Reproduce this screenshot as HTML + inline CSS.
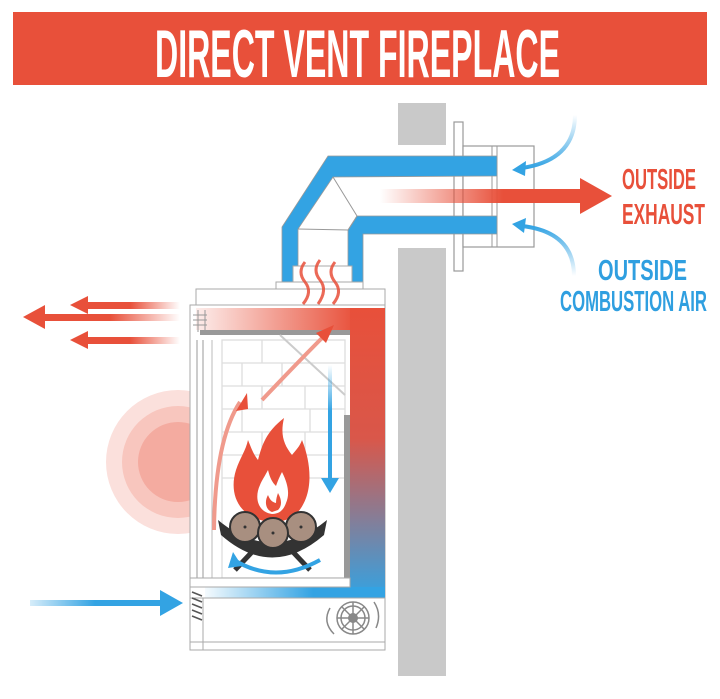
<!DOCTYPE html>
<html><head><meta charset="utf-8"><style>
html,body{margin:0;padding:0;background:#fff;}
svg{display:block;}
text{font-family:"Liberation Sans",sans-serif;font-weight:bold;}
</style></head><body>
<svg width="720" height="699" viewBox="0 0 720 699" xmlns="http://www.w3.org/2000/svg">
<defs>
<linearGradient id="exh" x1="0" x2="1"><stop offset="0" stop-color="#e8503a" stop-opacity="0"/><stop offset="0.6" stop-color="#e8503a"/></linearGradient>
<linearGradient id="lred" x1="1" x2="0"><stop offset="0" stop-color="#e8503a" stop-opacity="0"/><stop offset="0.5" stop-color="#e8503a"/></linearGradient>
<linearGradient id="band" x1="0" x2="1"><stop offset="0" stop-color="#e8503a" stop-opacity="0.1"/><stop offset="1" stop-color="#e8503a"/></linearGradient>
<linearGradient id="col" x1="0" y1="0" x2="0" y2="1"><stop offset="0" stop-color="#e8503a"/><stop offset="0.45" stop-color="#d9574a"/><stop offset="1" stop-color="#33a3e3"/></linearGradient>
<linearGradient id="bband" x1="0" x2="1"><stop offset="0" stop-color="#33a3e3" stop-opacity="0.05"/><stop offset="0.6" stop-color="#33a3e3"/></linearGradient>
<linearGradient id="lblue" x1="0" x2="1"><stop offset="0" stop-color="#33a3e3" stop-opacity="0.2"/><stop offset="0.5" stop-color="#33a3e3"/></linearGradient>
<linearGradient id="vblue" x1="0" y1="0" x2="0" y2="1"><stop offset="0" stop-color="#33a3e3" stop-opacity="0"/><stop offset="0.4" stop-color="#33a3e3"/></linearGradient>
<linearGradient id="cb1" x1="0" y1="0" x2="0" y2="1"><stop offset="0" stop-color="#33a3e3" stop-opacity="0"/><stop offset="1" stop-color="#33a3e3"/></linearGradient>
<linearGradient id="cb2" x1="0" y1="1" x2="0" y2="0"><stop offset="0" stop-color="#33a3e3" stop-opacity="0"/><stop offset="1" stop-color="#33a3e3"/></linearGradient>
<clipPath id="heatclip"><rect x="0" y="0" width="192" height="699"/></clipPath>
</defs>

<rect x="13" y="12" width="694" height="73" fill="#e8503a"/>
<text x="155" y="77" font-size="68" fill="#fff" textLength="405" lengthAdjust="spacingAndGlyphs">DIRECT VENT FIREPLACE</text>

<rect x="398" y="103" width="48" height="42" fill="#c9c9c9"/>
<rect x="398" y="248" width="48" height="428" fill="#c9c9c9"/>

<rect x="454" y="122" width="9" height="149" fill="#fff" stroke="#999" stroke-width="1.2"/>
<rect x="463" y="146" width="71" height="101" fill="#fff" stroke="#999" stroke-width="1.2"/>
<line x1="492" y1="146" x2="492" y2="247" stroke="#999"/>
<line x1="497" y1="146" x2="497" y2="247" stroke="#999"/>

<polygon points="282,282 282,227 328,156 497,156 497,176 333,177 298,229 298,282" fill="#33a3e3" stroke="#999" stroke-width="0.8"/>
<polygon points="348,282 348,230 357,216 497,216 497,234 363,234 363,282" fill="#33a3e3" stroke="#999" stroke-width="0.8"/>
<polyline points="333,177 357,216 348,230 298,229" fill="none" stroke="#999"/>

<rect x="380" y="189" width="205" height="14" fill="url(#exh)"/>
<polygon points="580,178 612,196 580,214" fill="#e8503a"/>

<path d="M575,115 Q575,160 522,168" fill="none" stroke="url(#cb1)" stroke-width="4"/>
<polygon points="512,170 526,161 525,176" fill="#33a3e3"/>
<path d="M574,276 Q574,232 522,226" fill="none" stroke="url(#cb2)" stroke-width="4"/>
<polygon points="512,224 526,218 524,233" fill="#33a3e3"/>

<text x="622" y="189" font-size="29" fill="#e8503a" textLength="74" lengthAdjust="spacingAndGlyphs">OUTSIDE</text>
<text x="622" y="224" font-size="29" fill="#e8503a" textLength="83" lengthAdjust="spacingAndGlyphs">EXHAUST</text>
<text x="598" y="280" font-size="29" fill="#2f9fe0" textLength="89" lengthAdjust="spacingAndGlyphs">OUTSIDE</text>
<text x="560" y="311" font-size="29" fill="#2f9fe0" textLength="147" lengthAdjust="spacingAndGlyphs">COMBUSTION AIR</text>

<g clip-path="url(#heatclip)">
<circle cx="178" cy="462" r="72" fill="#fbe0dc"/>
<circle cx="178" cy="462" r="56" fill="#f8c6be"/>
<circle cx="178" cy="462" r="40" fill="#f4aba0"/>
</g>

<rect x="293" y="266" width="59" height="16" fill="#fff" stroke="#aaa"/>
<rect x="276" y="282" width="87" height="8" fill="#fff" stroke="#aaa"/>
<rect x="196" y="289" width="189" height="16" fill="#fff" stroke="#aaa"/>

<rect x="190" y="305" width="195" height="293" fill="#fff" stroke="#aaa"/>
<rect x="196" y="308" width="160" height="22" fill="url(#band)"/>
<rect x="200" y="330" width="150" height="5" fill="#999"/>
<g stroke="#999" stroke-width="1"><line x1="198" y1="310" x2="198" y2="332"/><line x1="205" y1="310" x2="205" y2="332"/>
<line x1="193" y1="315" x2="207" y2="315"/><line x1="193" y1="320" x2="207" y2="320"/><line x1="193" y1="325" x2="207" y2="325"/></g>
<line x1="197" y1="340" x2="197" y2="578" stroke="#999"/>
<line x1="203" y1="340" x2="203" y2="578" stroke="#999"/>
<line x1="212" y1="340" x2="212" y2="578" stroke="#bbb"/>
<g stroke="#ddd" stroke-width="1.3" fill="none">
<rect x="222" y="340" width="123" height="238"/>
<line x1="222" y1="363" x2="345" y2="363"/><line x1="222" y1="386" x2="345" y2="386"/><line x1="222" y1="409" x2="345" y2="409"/><line x1="222" y1="432" x2="345" y2="432"/><line x1="222" y1="455" x2="345" y2="455"/><line x1="222" y1="478" x2="345" y2="478"/>
<line x1="262" y1="340" x2="262" y2="363"/><line x1="242" y1="363" x2="242" y2="386"/><line x1="282" y1="363" x2="282" y2="386"/><line x1="262" y1="386" x2="262" y2="409"/><line x1="305" y1="386" x2="305" y2="409"/><line x1="242" y1="409" x2="242" y2="432"/><line x1="310" y1="409" x2="310" y2="432"/><line x1="262" y1="432" x2="262" y2="455"/><line x1="305" y1="432" x2="305" y2="455"/>
</g>
<line x1="280" y1="335" x2="345" y2="395" stroke="#ccc" stroke-width="2"/>
<rect x="344" y="415" width="6" height="163" fill="#999"/>

<rect x="350" y="308" width="35" height="290" fill="url(#col)"/>
<rect x="205" y="587" width="180" height="11" fill="url(#bband)"/>
<rect x="190" y="578" width="160" height="9" fill="#fff" stroke="#aaa"/>

<rect x="190" y="598" width="195" height="52" fill="#fff" stroke="#aaa"/>
<g stroke="#555" stroke-width="1.5"><line x1="192" y1="592" x2="202" y2="596"/><line x1="192" y1="598" x2="202" y2="602"/><line x1="192" y1="604" x2="202" y2="608"/><line x1="192" y1="610" x2="202" y2="614"/><line x1="192" y1="616" x2="202" y2="620"/></g>
<line x1="203" y1="598" x2="203" y2="650" stroke="#aaa"/>
<line x1="190" y1="642" x2="385" y2="642" stroke="#aaa"/>
<g stroke="#888" stroke-width="1.5" fill="none">
<circle cx="353" cy="618" r="16"/><circle cx="353" cy="618" r="12"/>
<line x1="337" y1="618" x2="369" y2="618"/><line x1="353" y1="602" x2="353" y2="634"/><line x1="342" y1="607" x2="364" y2="629"/><line x1="364" y1="607" x2="342" y2="629"/>
<path d="M330,608 Q322,622 334,634"/><path d="M376,628 Q382,614 374,602"/>
</g>
<circle cx="353" cy="618" r="5" fill="#888"/>

<g fill="none" stroke="#e8503a" stroke-width="3" opacity="0.85">
<path d="M305,262 q-8,10 0,20 q8,10 -2,22"/><path d="M320,260 q-8,10 0,20 q8,10 -2,24"/><path d="M335,262 q-8,10 0,20 q8,10 -2,22"/>
</g>

<rect x="328" y="365" width="4" height="115" fill="url(#vblue)"/>
<polygon points="321,478 339,478 330,493" fill="#33a3e3"/>

<path d="M214,530 Q215,440 240,402" fill="none" stroke="#f09a8c" stroke-width="4"/>
<polygon points="247,393 236,411 248,409" fill="#e8503a"/>
<path d="M262,400 Q300,360 325,335" fill="none" stroke="#f09a8c" stroke-width="4"/>
<polygon points="334,325 316,333 326,343" fill="#e8503a"/>

<path d="M272,522 C240,520 228,495 236,470 C240,458 246,450 248,440 C252,450 254,455 258,460 C262,445 266,432 284,418 C280,435 284,445 292,455 C296,450 300,446 302,440 C310,460 312,482 306,498 C300,514 290,522 272,522 Z" fill="#e8503a"/>
<path d="M272,514 C258,512 254,498 260,485 C262,480 265,476 268,470 C270,478 272,482 276,486 C278,480 280,476 282,472 C288,484 290,494 286,503 C284,509 280,514 272,514 Z" fill="#fff"/>
<path d="M272,512 C266,510 264,502 268,495 C270,500 272,502 276,503 C276,499 277,496 278,493 C282,500 282,506 278,510 Z" fill="#e8503a"/>

<path d="M218,520 Q272,565 327,520 L324,535 Q272,580 221,535 Z" fill="#333"/>
<line x1="235" y1="570" x2="252" y2="552" stroke="#333" stroke-width="5"/>
<line x1="310" y1="570" x2="293" y2="552" stroke="#333" stroke-width="5"/>
<g fill="#a88f80" stroke="#333" stroke-width="2">
<circle cx="245" cy="527" r="15"/><circle cx="301" cy="527" r="15"/><circle cx="273" cy="533" r="15"/>
</g>
<circle cx="245" cy="527" r="1.5" fill="#333"/><circle cx="301" cy="527" r="1.5" fill="#333"/><circle cx="273" cy="533" r="1.5" fill="#333"/>
<path d="M320,560 Q275,585 234,560" fill="none" stroke="#33a3e3" stroke-width="4"/>
<polygon points="233,552 228,568 242,566" fill="#33a3e3"/>

<rect x="80" y="302" width="100" height="7" fill="url(#lred)"/>
<polygon points="70,305 88,296 88,314" fill="#e8503a"/>
<rect x="40" y="314" width="140" height="7" fill="url(#lred)"/>
<polygon points="23,317 45,305 45,329" fill="#e8503a"/>
<rect x="80" y="337" width="100" height="7" fill="url(#lred)"/>
<polygon points="70,340 88,331 88,349" fill="#e8503a"/>

<rect x="30" y="600" width="130" height="6" fill="url(#lblue)"/>
<polygon points="183,603 160,590 160,616" fill="#33a3e3"/>
</svg>
</body></html>
